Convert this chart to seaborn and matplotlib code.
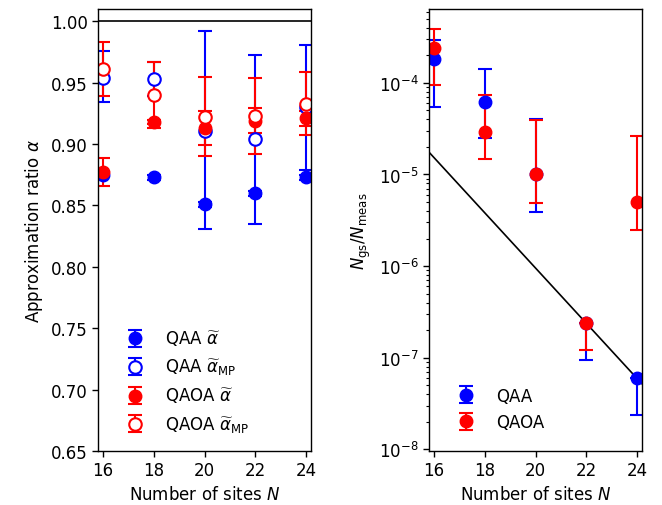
import numpy as np
import matplotlib
matplotlib.use("Agg")
import matplotlib.pyplot as plt
from matplotlib.ticker import NullFormatter
import seaborn as sns

sns.set_theme(style="ticks")
plt.rcParams.update({
    "font.family": ["DejaVu Sans"],
    "font.size": 12,
    "axes.labelsize": 12,
    "xtick.labelsize": 12,
    "ytick.labelsize": 12,
    "legend.fontsize": 12,
    "axes.edgecolor": "black",
    "axes.linewidth": 1.0,
    "xtick.color": "black",
    "ytick.color": "black",
    "text.color": "black",
    "axes.labelcolor": "black",
    "mathtext.fontset": "dejavusans",
})

# ---------------- data ----------------
sites = [16, 18, 20, 22, 24]

# left panel: approximation ratio
qaa_alpha = [0.875, 0.873, 0.851, 0.860, 0.873]
qaa_alpha_lo = [0.002, 0.002, 0.002, 0.002, 0.002]
qaa_alpha_hi = [0.002, 0.002, 0.002, 0.002, 0.002]

qaa_alpha_mp = [0.954, 0.953, 0.911, 0.904, 0.930]
qaa_alpha_mp_lo = [0.0195, 0.014, 0.080, 0.069, 0.051]
qaa_alpha_mp_hi = [0.0215, 0.014, 0.081, 0.0685, 0.051]

qaoa_alpha = [0.877, 0.918, 0.913, 0.919, 0.921]
qaoa_alpha_lo = [0.011, 0.002, 0.014, 0.010, 0.006]
qaoa_alpha_hi = [0.012, 0.002, 0.014, 0.010, 0.006]

qaoa_alpha_mp = [0.961, 0.940, 0.922, 0.923, 0.933]
qaoa_alpha_mp_lo = [0.022, 0.027, 0.032, 0.031, 0.026]
qaoa_alpha_mp_hi = [0.022, 0.027, 0.033, 0.031, 0.026]

# right panel: ground-state probability N_gs / N_meas
qaa_ratio = [1.8e-4, 6.2e-5, 1.0e-5, 2.38e-7, 6.0e-8]
qaa_ratio_low = [5.5e-5, 2.5e-5, 3.9e-6, 9.5e-8, 2.4e-8]
qaa_ratio_high = [2.95e-4, 1.41e-4, 4.0e-5, 2.38e-7, 6.0e-8]

qaoa_ratio = [2.4e-4, 2.9e-5, 1.0e-5, 2.38e-7, 5.0e-6]
qaoa_ratio_low = [9.4e-5, 1.46e-5, 4.9e-6, 1.2e-7, 2.45e-6]
qaoa_ratio_high = [3.9e-4, 7.3e-5, 3.9e-5, 2.38e-7, 2.6e-5]

# random-guess reference 2^-N over the shown x range
ref_sites = np.array([15.8, 24.2])
ref_ratio = 2.0 ** (-ref_sites)

# ---------------- figure ----------------
fig = plt.figure(figsize=(6.62, 5.06), dpi=100)
ax1 = fig.add_axes([98 / 662, 1 - 452 / 506, 213 / 662, 442 / 506])
ax2 = fig.add_axes([429 / 662, 1 - 452 / 506, 213 / 662, 442 / 506])

ms = 9
cs = 5
ew = 1.5
kw = dict(capsize=cs, elinewidth=ew, capthick=ew, markersize=ms, linestyle="none")

# left panel
ax1.axhline(1.0, color="black", lw=1.2, zorder=1)
ax1.errorbar(sites, qaa_alpha, yerr=[qaa_alpha_lo, qaa_alpha_hi], fmt="o",
             color="blue", label=r"QAA $\widetilde{\alpha}$", **kw)
ax1.errorbar(sites, qaa_alpha_mp, yerr=[qaa_alpha_mp_lo, qaa_alpha_mp_hi], fmt="o",
             color="blue", mfc="white", mew=1.5,
             label=r"QAA $\widetilde{\alpha}_{\mathrm{MP}}$", **kw)
ax1.errorbar(sites, qaoa_alpha, yerr=[qaoa_alpha_lo, qaoa_alpha_hi], fmt="o",
             color="red", label=r"QAOA $\widetilde{\alpha}$", **kw)
ax1.errorbar(sites, qaoa_alpha_mp, yerr=[qaoa_alpha_mp_lo, qaoa_alpha_mp_hi], fmt="o",
             color="red", mfc="white", mew=1.5,
             label=r"QAOA $\widetilde{\alpha}_{\mathrm{MP}}$", **kw)
ax1.set_xlim(15.8, 24.2)
ax1.set_ylim(0.65, 1.01)
ax1.set_xticks(sites)
ax1.set_yticks(np.arange(0.65, 1.001, 0.05))
ax1.set_yticklabels([f"{v:.2f}" for v in np.arange(0.65, 1.001, 0.05)])
ax1.set_xlabel(r"Number of sites $N$")
ax1.set_ylabel(r"Approximation ratio $\alpha$")
ax1.legend(loc="lower left", frameon=False, borderaxespad=0.8, handletextpad=0.8,
           bbox_to_anchor=(0, -0.008))

# right panel
sns.lineplot(x=ref_sites, y=ref_ratio, ax=ax2, color="black", lw=1.2, zorder=1)
q1 = np.array(qaa_ratio)
q2 = np.array(qaoa_ratio)
ax2.errorbar(sites, q1, yerr=[q1 - np.array(qaa_ratio_low), np.array(qaa_ratio_high) - q1],
             fmt="o", color="blue", label="QAA", **kw)
ax2.errorbar(sites, q2, yerr=[q2 - np.array(qaoa_ratio_low), np.array(qaoa_ratio_high) - q2],
             fmt="o", color="red", label="QAOA", **kw)
ax2.set_yscale("log")
ax2.set_xlim(15.8, 24.2)
ax2.set_xticks(sites)
ax2.set_yticks([1e-8, 1e-7, 1e-6, 1e-5, 1e-4])
minor_pos = [k * 10.0 ** e for e in range(-9, -3) for k in range(2, 10)]
ax2.set_yticks(minor_pos, minor=True)
ax2.yaxis.set_minor_formatter(NullFormatter())
ax2.set_ylim(9.6e-9, 6.4e-4)
ax2.set_xlabel(r"Number of sites $N$")
ax2.set_ylabel(r"$N_{\mathrm{gs}}/N_{\mathrm{meas}}$")
ax2.legend(loc="lower left", frameon=False, borderaxespad=0.8, handletextpad=0.8)

for ax in (ax1, ax2):
    ax.tick_params(direction="out", length=4, width=1, which="major", colors="black")
    for s in ax.spines.values():
        s.set_visible(True)
        s.set_color("black")
ax2.tick_params(axis="y", which="minor", direction="out", length=2.5, width=0.8,
                color="black", left=True)

fig.savefig("out.png", dpi=100)
